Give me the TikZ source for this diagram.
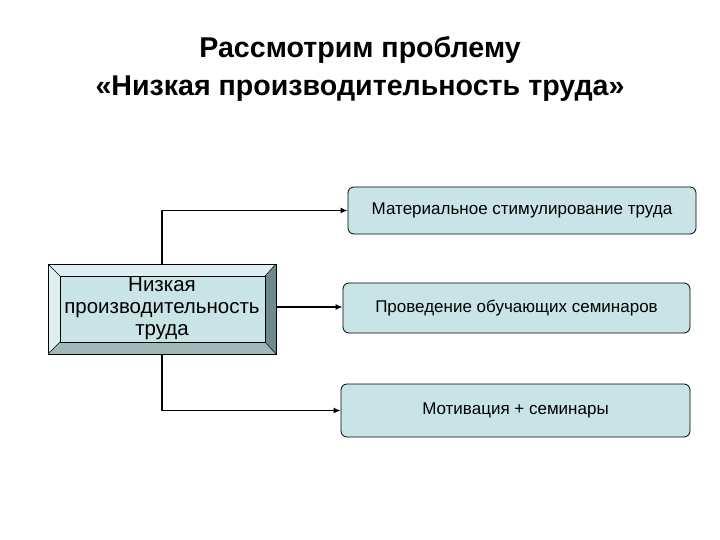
\documentclass[tikz,border=0pt]{standalone}
\usepackage{fontspec}
\usetikzlibrary{arrows.meta}
\setmainfont{Liberation Sans}
\begin{document}
\begin{tikzpicture}[x=1pt,y=-1pt,
  rbox/.style={draw=black,line width=0.8pt,fill=boxc,rounded corners=6pt,inner sep=0pt},
  conn/.style={line width=1.6pt,-{Latex[length=7pt,width=6pt]}},
  lab/.style={font=\fontsize{17}{19}\selectfont}]
\definecolor{boxc}{HTML}{C8E4E6}
\definecolor{bevl}{HTML}{DDEFF0}
\definecolor{bevd}{HTML}{6F8A8C}
\definecolor{bevm}{HTML}{9FB9BB}
\useasboundingbox (0,0) rectangle (720,540);
\fill[white] (0,0) rectangle (720,540);
\node[font=\bfseries\fontsize{28.6}{38}\selectfont,align=center] (title) at (360,69)
  {Рассмотрим проблему\\«Низкая производительность труда»};
% bevel box
\fill[bevl] (48,264) -- (276,264) -- (265,276) -- (60,276) -- (60,342) -- (48,354) -- cycle;
\fill[bevd] (276,264) -- (276,354) -- (265,342) -- (265,276) -- cycle;
\fill[bevm] (48,354) -- (276,354) -- (265,342) -- (60,342) -- cycle;
\fill[boxc] (60,276) rectangle (265,342);
\draw[line width=0.6pt] (48,264) rectangle (276,354);
\draw[line width=0.6pt] (60,276) rectangle (265,342);
\draw[line width=0.5pt] (48,264)--(60,276) (276,264)--(265,276) (48,354)--(60,342) (276,354)--(265,342);
\node[font=\fontsize{20.5}{22}\selectfont,align=center] (src) at (162,309)
  {Низкая\\производительность\\труда};
\coordinate (srcT) at (162,264);
\coordinate (srcB) at (162,354);
\coordinate (srcR) at (276,307);
\node[rbox,minimum width=348pt,minimum height=47pt,lab] (b1) at (522,210.5) {Материальное стимулирование труда};
\node[rbox,minimum width=347pt,minimum height=50pt,lab] (b2) at (516.5,308) {Проведение обучающих семинаров};
\node[rbox,minimum width=349pt,minimum height=53pt,lab] (b3) at (515.5,410.5) {Мотивация + семинары};
\draw[conn] (srcT) |- (b1.west);
\draw[conn] (srcR) -- (srcR -| b2.west);
\draw[conn] (srcB) |- (b3.west);
\end{tikzpicture}
\end{document}
